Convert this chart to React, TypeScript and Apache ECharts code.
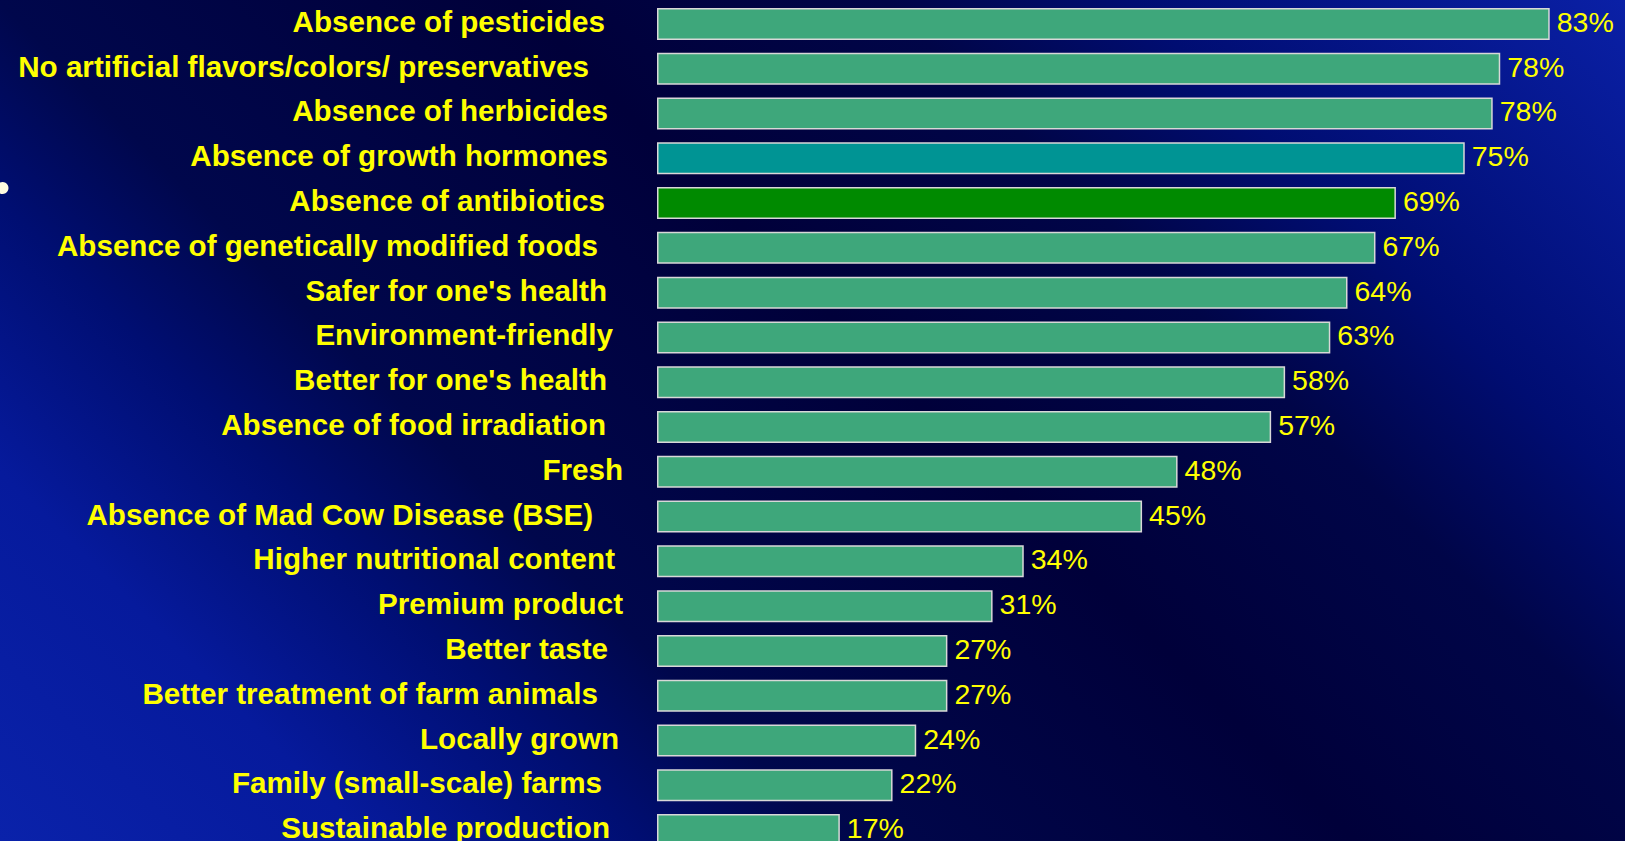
import React, { useEffect, useRef } from "react";
import * as echarts from "echarts";

// ---- Data ----
const categories = [
  "Absence of pesticides",
  "No artificial flavors/colors/ preservatives",
  "Absence of herbicides",
  "Absence of growth hormones",
  "Absence of antibiotics",
  "Absence of genetically modified foods",
  "Safer for one's health",
  "Environment-friendly",
  "Better for one's health",
  "Absence of food irradiation",
  "Fresh",
  "Absence of Mad Cow Disease (BSE)",
  "Higher nutritional content",
  "Premium product",
  "Better taste",
  "Better treatment of farm animals",
  "Locally grown",
  "Family (small-scale) farms",
  "Sustainable production",
];

const values = [
  83, 78.4, 77.7, 75.1, 68.7, 66.8, 64.2, 62.6, 58.4, 57.1, 48.4, 45.1, 34.1,
  31.2, 27, 27, 24.1, 21.9, 17,
];

// ---- Styling ----
const W = 1625;
const H = 841;
const CHART_H = 853; // the slide's last row is cut off by the bottom of the page
const FONT = "'Liberation Sans', Arial, Helvetica, sans-serif";
const YELLOW = "#ffff00";
const BAR_COLOR = "#3ea77b";
const specialBarColors: Record<string, string> = {
  "Absence of growth hormones": "#009494",
  "Absence of antibiotics": "#008a00",
};
// extra right padding per label (original slide labels are not perfectly aligned)
const labelRightPad = [18, 34, 15, 15, 18, 25, 16, 10, 16, 17, 0, 30, 8, 0, 15, 25, 4, 21, 13];

export default function App() {
  const ref = useRef<HTMLDivElement>(null);

  useEffect(() => {
    document.body.style.margin = "0";
    document.body.style.overflow = "hidden";
    const chart = echarts.init(ref.current!, null, { renderer: "svg" });

    const rich: Record<string, any> = {};
    labelRightPad.forEach((p, i) => {
      rich["p" + i] = {
        color: YELLOW,
        fontSize: 29.6,
        fontWeight: "bold",
        fontFamily: FONT,
        padding: [0, p, 5, 0],
      };
    });

    const bg = new echarts.graphic.LinearGradient(
      0,
      H,
      1233,
      -392,
      [
        { offset: 0, color: "#0a22aa" },
        { offset: 0.15, color: "#061a9c" },
        { offset: 0.26, color: "#000e72" },
        { offset: 0.34, color: "#00074c" },
        { offset: 0.55, color: "#00003a" },
        { offset: 0.7, color: "#000548" },
        { offset: 0.8, color: "#000d72" },
        { offset: 1, color: "#0a20a6" },
      ],
      true
    );

    const option: any = {
      animation: false,
      graphic: [
        {
          type: "rect",
          z: -10,
          silent: true,
          shape: { x: 0, y: 0, width: W, height: CHART_H },
          style: { fill: bg },
        },
        {
          type: "circle",
          z: 10,
          silent: true,
          shape: { cx: 2.5, cy: 188, r: 6 },
          style: { fill: "#fffbe0" },
        },
      ],
      grid: { left: 657, right: 0, top: 1.5, bottom: 0.5, containLabel: false },
      xAxis: { type: "value", min: 0, max: 90, show: false },
      yAxis: {
        type: "category",
        data: categories,
        inverse: true,
        axisLine: { show: false },
        axisTick: { show: false },
        splitLine: { show: false },
        axisLabel: {
          margin: 34,
          color: YELLOW,
          fontSize: 29.6,
          fontWeight: "bold",
          fontFamily: FONT,
          formatter: (v: string, i: number) => `{p${i}|${v}}`,
          rich,
        },
      },
      series: [
        {
          type: "bar",
          barWidth: 32,
          data: values.map((v, i) => ({
            value: v,
            itemStyle: { color: specialBarColors[categories[i]] ?? BAR_COLOR },
          })),
          itemStyle: { borderColor: "#d8d8d8", borderWidth: 1.5 },
          label: {
            show: true,
            position: "right",
            distance: 7,
            offset: [0, -2],
            color: YELLOW,
            fontSize: 28.5,
            fontFamily: FONT,
            formatter: (p: any) => Math.round(p.value) + "%",
          },
        },
      ],
    };

    chart.setOption(option);
    return () => chart.dispose();
  }, []);

  return <div ref={ref} style={{ width: W, height: CHART_H }} />;
}
